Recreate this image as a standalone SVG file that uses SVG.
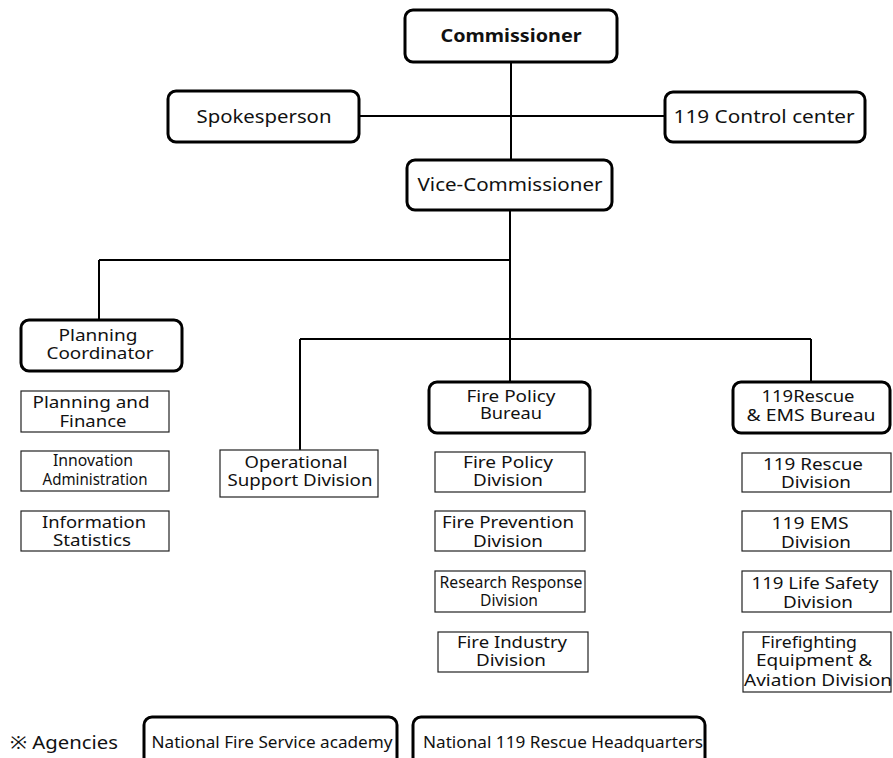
<svg xmlns="http://www.w3.org/2000/svg" width="893" height="758" viewBox="0 0 893 758">
<style>
.big{fill:#fff;stroke:#000;stroke-width:3}
.sm{fill:#fff;stroke:#222;stroke-width:1.2}
.ln{stroke:#000;stroke-width:2;fill:none}
text{font-family:"Noto Sans","Open Sans",sans-serif;font-size:17px;fill:#111;text-anchor:middle}
.b{font-weight:bold;font-size:18px}
.l{font-size:18px}
</style>
<rect width="893" height="758" fill="#fff"/>
<g id="connectors">
<path class="ln" d="M511,62V160M359,116H665M510,210V382M99,260H510M99,260V320M300,339H811M300,339V450M811,339V382"/>
</g>
<g id="commissioner"><rect class="big" x="405" y="10" width="212" height="52" rx="8"/><text class="b" x="511" y="42" textLength="141" lengthAdjust="spacingAndGlyphs">Commissioner</text></g>
<g id="spokesperson"><rect class="big" x="168" y="91" width="191" height="51" rx="8"/><text class="l" x="264" y="123" textLength="135" lengthAdjust="spacingAndGlyphs">Spokesperson</text></g>
<g id="control"><rect class="big" x="665" y="92" width="200" height="50" rx="8"/><text class="l" x="764" y="123" textLength="181" lengthAdjust="spacingAndGlyphs">119 Control center</text></g>
<g id="vice"><rect class="big" x="407" y="160" width="205" height="50" rx="8"/><text class="l" x="510" y="191" textLength="185" lengthAdjust="spacingAndGlyphs">Vice-Commissioner</text></g>
<g id="planning-coordinator"><rect class="big" x="21" y="320" width="161" height="51" rx="8"/><text x="98" y="341" textLength="79" lengthAdjust="spacingAndGlyphs">Planning</text><text x="100" y="359" textLength="107" lengthAdjust="spacingAndGlyphs">Coordinator</text></g>
<g id="planning-finance"><rect class="sm" x="21" y="391" width="148" height="41"/><text x="91" y="408" textLength="117" lengthAdjust="spacingAndGlyphs">Planning and</text><text x="93" y="427" textLength="67" lengthAdjust="spacingAndGlyphs">Finance</text></g>
<g id="innovation"><rect class="sm" x="21" y="451" width="148" height="40"/><text x="93" y="466" textLength="80" lengthAdjust="spacingAndGlyphs">Innovation</text><text x="95" y="485" textLength="105" lengthAdjust="spacingAndGlyphs">Administration</text></g>
<g id="information"><rect class="sm" x="21" y="511" width="148" height="40"/><text x="94" y="528" textLength="104" lengthAdjust="spacingAndGlyphs">Information</text><text x="92" y="546" textLength="78" lengthAdjust="spacingAndGlyphs">Statistics</text></g>
<g id="operational"><rect class="sm" x="220" y="450" width="158" height="47"/><text x="296" y="468" textLength="103" lengthAdjust="spacingAndGlyphs">Operational</text><text x="300" y="486" textLength="145" lengthAdjust="spacingAndGlyphs">Support Division</text></g>
<g id="fire-policy-bureau"><rect class="big" x="429" y="382" width="161" height="51" rx="8"/><text x="511" y="402" textLength="89" lengthAdjust="spacingAndGlyphs">Fire Policy</text><text x="511" y="419" textLength="62" lengthAdjust="spacingAndGlyphs">Bureau</text></g>
<g id="fire-policy-division"><rect class="sm" x="435" y="452" width="150" height="40"/><text x="508" y="468" textLength="90" lengthAdjust="spacingAndGlyphs">Fire Policy</text><text x="508" y="486" textLength="70" lengthAdjust="spacingAndGlyphs">Division</text></g>
<g id="fire-prevention"><rect class="sm" x="435" y="511" width="150" height="40"/><text x="508" y="528" textLength="132" lengthAdjust="spacingAndGlyphs">Fire Prevention</text><text x="508" y="547" textLength="70" lengthAdjust="spacingAndGlyphs">Division</text></g>
<g id="research"><rect class="sm" x="435" y="571" width="150" height="41"/><text x="511" y="588" textLength="143" lengthAdjust="spacingAndGlyphs">Research Response</text><text x="509" y="606" textLength="58" lengthAdjust="spacingAndGlyphs">Division</text></g>
<g id="fire-industry"><rect class="sm" x="438" y="632" width="150" height="40"/><text x="512" y="648" textLength="110" lengthAdjust="spacingAndGlyphs">Fire Industry</text><text x="511" y="666" textLength="70" lengthAdjust="spacingAndGlyphs">Division</text></g>
<g id="rescue-bureau"><rect class="big" x="733" y="382" width="157" height="51" rx="8"/><text x="808" y="402" textLength="93" lengthAdjust="spacingAndGlyphs">119Rescue</text><text x="811" y="421" textLength="129" lengthAdjust="spacingAndGlyphs">&amp; EMS Bureau</text></g>
<g id="rescue-division"><rect class="sm" x="742" y="453" width="149" height="39"/><text x="813" y="470" textLength="100" lengthAdjust="spacingAndGlyphs">119 Rescue</text><text x="816" y="488" textLength="70" lengthAdjust="spacingAndGlyphs">Division</text></g>
<g id="ems-division"><rect class="sm" x="742" y="511" width="149" height="40"/><text x="810" y="529" textLength="77" lengthAdjust="spacingAndGlyphs">119 EMS</text><text x="816" y="548" textLength="70" lengthAdjust="spacingAndGlyphs">Division</text></g>
<g id="life-safety"><rect class="sm" x="742" y="571" width="149" height="41"/><text x="815" y="589" textLength="127" lengthAdjust="spacingAndGlyphs">119 Life Safety</text><text x="818" y="608" textLength="70" lengthAdjust="spacingAndGlyphs">Division</text></g>
<g id="firefighting"><rect class="sm" x="743" y="632" width="148" height="60"/><text x="809" y="648" textLength="96" lengthAdjust="spacingAndGlyphs">Firefighting</text><text x="814" y="666" textLength="116" lengthAdjust="spacingAndGlyphs">Equipment &amp;</text><text x="818" y="686" textLength="148" lengthAdjust="spacingAndGlyphs">Aviation Division</text></g>
<text class="l" x="64" y="749" textLength="108" lengthAdjust="spacingAndGlyphs">※ Agencies</text>
<g id="academy"><rect class="big" x="144" y="717" width="253" height="50" rx="8"/><text x="272" y="748" textLength="241" lengthAdjust="spacingAndGlyphs">National Fire Service academy</text></g>
<g id="rescue-hq"><rect class="big" x="413" y="717" width="292" height="50" rx="8"/><text x="563" y="748" textLength="280" lengthAdjust="spacingAndGlyphs">National 119 Rescue Headquarters</text></g>
</svg>
